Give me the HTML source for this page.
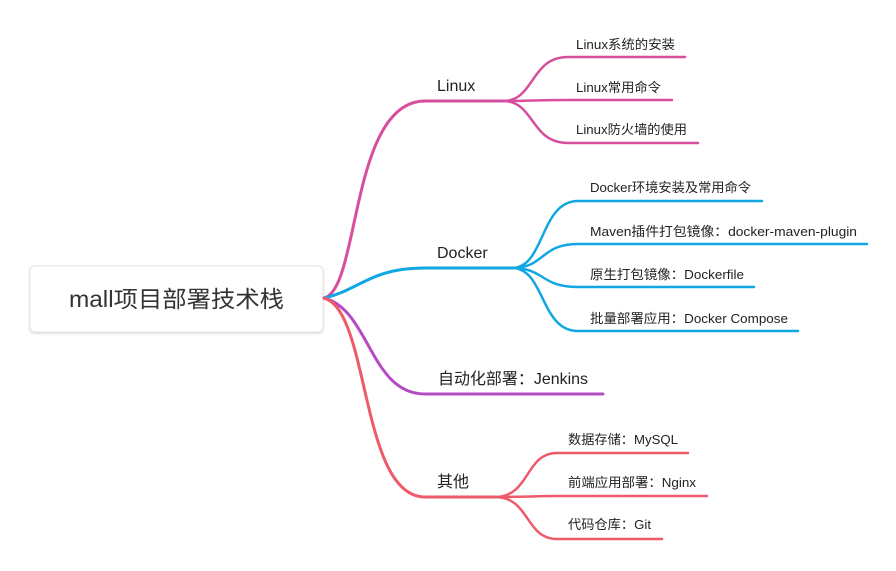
<!DOCTYPE html>
<html><head><meta charset="utf-8"><style>
html,body{margin:0;padding:0;background:#fff;width:896px;height:571px;overflow:hidden}
svg text{font-family:"Liberation Sans","Noto Sans CJK SC",sans-serif;fill:#222}
</style></head><body>
<svg width="896" height="571" viewBox="0 0 896 571" xmlns="http://www.w3.org/2000/svg">
<defs><filter id="sh" x="-10%" y="-20%" width="120%" height="150%"><feDropShadow dx="0" dy="1" stdDeviation="1.2" flood-color="#000" flood-opacity="0.18"/></filter></defs>
<rect x="30" y="266" width="293" height="66" rx="5" fill="#fff" stroke="#e6e6e6" filter="url(#sh)"/>
<text x="69" y="307" font-size="23" textLength="215" lengthAdjust="spacingAndGlyphs" style="fill:#333">mall项目部署技术栈</text>
<g fill="none" stroke-linecap="round">
<g stroke="#d64f9e" stroke-width="3">
<path d="M324 298 C360 290 350 101 425 101 L503 101"/>
<path d="M503 101 C535 101 530 57 568 57 L685 57" stroke-width="2.5"/>
<path d="M503 101 C530 101 540 100 568 100 L672 100" stroke-width="2.5"/>
<path d="M503 101 C535 101 530 143 568 143 L698 143" stroke-width="2.5"/>
</g>
<g stroke="#11a7e2" stroke-width="3">
<path d="M324 298 C360 290 370 268 425 268 L512 268"/>
<path d="M512 268 C545 268 540 201 578 201 L762 201" stroke-width="2.5"/>
<path d="M512 268 C545 268 540 244 578 244 L867 244" stroke-width="2.5"/>
<path d="M512 268 C545 268 540 287 578 287 L754 287" stroke-width="2.5"/>
<path d="M512 268 C545 268 540 331 578 331 L798 331" stroke-width="2.5"/>
</g>
<path d="M324 298 C370 310 370 394 425 394 L603 394" stroke="#b54cc4" stroke-width="3"/>
<g stroke="#ef5a6b" stroke-width="3">
<path d="M324 298 C370 310 360 497 425 497 L495 497"/>
<path d="M495 497 C530 497 525 453 557 453 L688 453" stroke-width="2.5"/>
<path d="M495 497 C525 497 535 496 557 496 L707 496" stroke-width="2.5"/>
<path d="M495 497 C530 497 525 539 557 539 L662 539" stroke-width="2.5"/>
</g>
</g>
<g font-size="16">
<text x="437" y="91">Linux</text>
<text x="437" y="258">Docker</text>
<text x="438" y="384" textLength="150" lengthAdjust="spacingAndGlyphs">自动化部署：Jenkins</text>
<text x="437" y="487">其他</text>
</g>
<g font-size="13">
<text x="576" y="49" textLength="99" lengthAdjust="spacingAndGlyphs">Linux系统的安装</text>
<text x="576" y="92" textLength="85" lengthAdjust="spacingAndGlyphs">Linux常用命令</text>
<text x="576" y="134" textLength="111" lengthAdjust="spacingAndGlyphs">Linux防火墙的使用</text>
<text x="590" y="192" textLength="161" lengthAdjust="spacingAndGlyphs">Docker环境安装及常用命令</text>
<text x="590" y="236" textLength="267" lengthAdjust="spacingAndGlyphs">Maven插件打包镜像：docker-maven-plugin</text>
<text x="590" y="279" textLength="154" lengthAdjust="spacingAndGlyphs">原生打包镜像：Dockerfile</text>
<text x="590" y="323" textLength="198" lengthAdjust="spacingAndGlyphs">批量部署应用：Docker Compose</text>
<text x="568" y="444" textLength="110" lengthAdjust="spacingAndGlyphs">数据存储：MySQL</text>
<text x="568" y="487" textLength="128" lengthAdjust="spacingAndGlyphs">前端应用部署：Nginx</text>
<text x="568" y="529" textLength="83" lengthAdjust="spacingAndGlyphs">代码仓库：Git</text>
</g>
</svg>
</body></html>
